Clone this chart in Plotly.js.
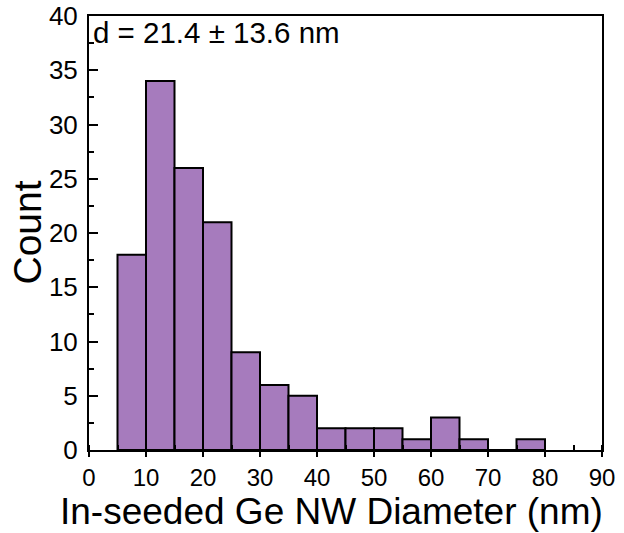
<!DOCTYPE html>
<html>
<head>
<meta charset="utf-8">
<script src="https://cdn.plot.ly/plotly-3.0.1.min.js"></script>
<style>html,body{margin:0;padding:0;background:#fff;}#chart{width:624px;height:533px;}</style>
</head>
<body>
<div id="chart"></div>
<script>
const binStart = [5, 10, 15, 20, 25, 30, 35, 40, 45, 50, 55, 60, 65, 70, 75];
const binWidth = 5;
const counts = [18, 34, 26, 21, 9, 6, 5, 2, 2, 2, 1, 3, 1, 0, 1];
const xTickVals = [0, 10, 20, 30, 40, 50, 60, 70, 80, 90];
const yTickVals = [0, 5, 10, 15, 20, 25, 30, 35, 40];
const statText = "d = 21.4 ± 13.6 nm";
const xTitle = "In-seeded Ge NW Diameter (nm)";
const yTitle = "Count";

const font = "Liberation Sans, Arial, sans-serif";

const trace = {
  type: 'bar',
  x: binStart,
  y: counts,
  width: binStart.map(() => binWidth),
  offset: 0,
  marker: {color: '#a67bbd', line: {color: '#000', width: 2}},
  hoverinfo: 'x+y'
};

const layout = {
  width: 624, height: 533,
  margin: {l: 89, r: 22, t: 16, b: 83},
  paper_bgcolor: '#fff', plot_bgcolor: '#fff',
  showlegend: false,
  bargap: 0,
  font: {family: font, color: '#000'},
  xaxis: {
    range: [0, 90],
    tickvals: xTickVals,
    ticks: 'outside', ticklen: 5, tickwidth: 2, tickcolor: '#000',
    minor: {dtick: 5, ticks: 'inside', ticklen: 5, tickwidth: 2, tickcolor: '#000'},
    showline: true, linecolor: '#000', linewidth: 2, mirror: true,
    showgrid: false, zeroline: false,
    tickfont: {size: 24, family: font}
  },
  yaxis: {
    range: [0, 40],
    tickvals: yTickVals,
    ticks: 'inside', ticklen: 9, tickwidth: 2, tickcolor: '#000',
    minor: {dtick: 2.5, ticks: 'inside', ticklen: 5, tickwidth: 2, tickcolor: '#000'},
    showline: true, linecolor: '#000', linewidth: 2, mirror: true,
    showgrid: false, zeroline: false,
    tickfont: {size: 26, family: font},
    ticklabelstandoff: 4
  },
  annotations: [{
    xref: 'paper', yref: 'paper', x: 0.003, y: 1.005,
    xanchor: 'left', yanchor: 'top',
    text: statText, showarrow: false,
    font: {size: 29.5, family: font, color: '#000'}
  }, {
    xref: 'paper', yref: 'paper', x: 0.472, y: -0.1406,
    xanchor: 'center', yanchor: 'middle', borderpad: 0,
    text: xTitle, showarrow: false,
    font: {size: 37, family: font, color: '#000'}
  }, {
    xref: 'paper', yref: 'paper', x: -0.119, y: 0.501,
    xanchor: 'center', yanchor: 'middle', textangle: -90,
    text: yTitle, showarrow: false,
    font: {size: 39, family: font, color: '#000'}
  }]
};

Plotly.newPlot('chart', [trace], layout, {displayModeBar: false, staticPlot: true});
</script>
</body>
</html>
